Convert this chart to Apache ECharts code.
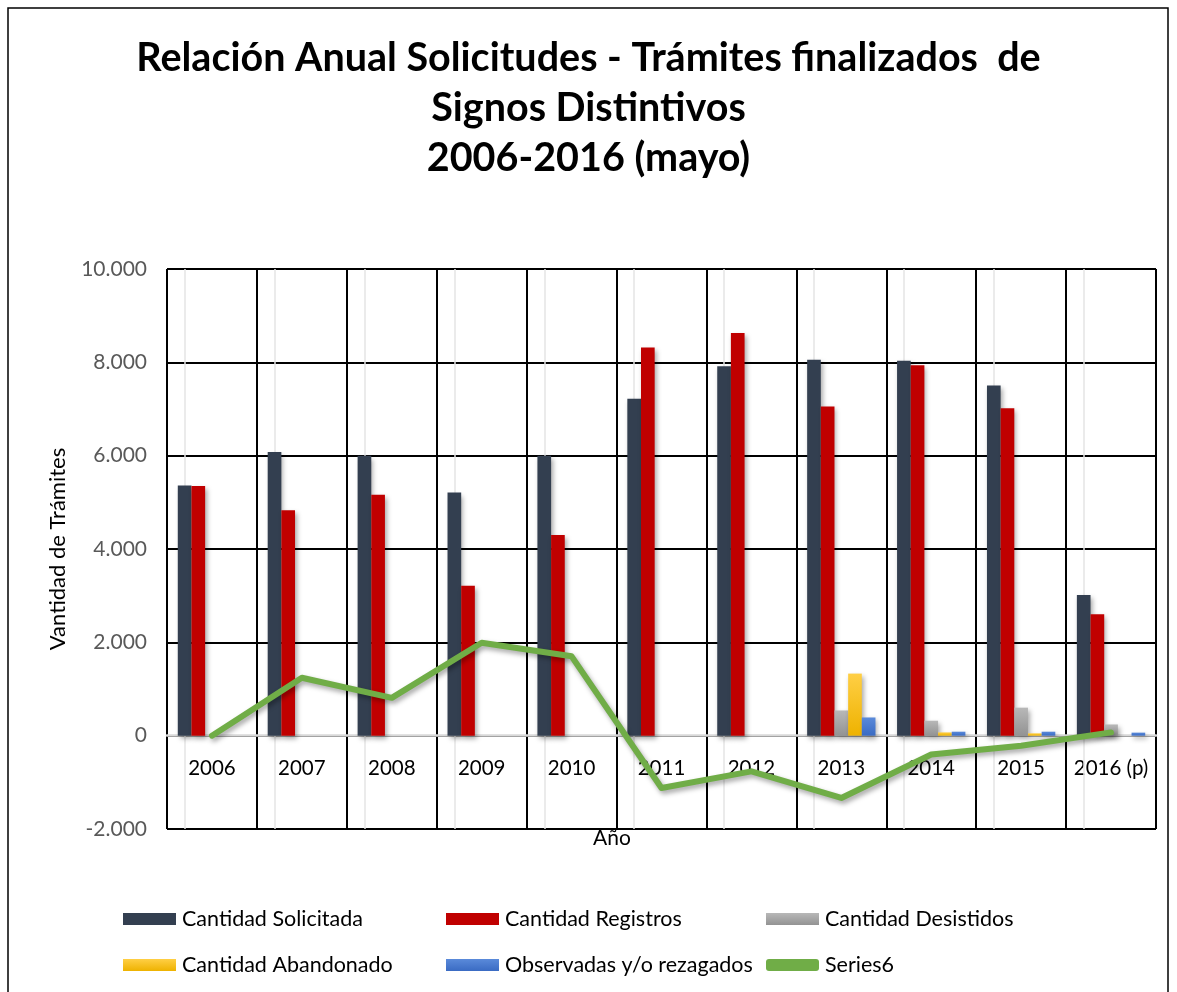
<!DOCTYPE html>
<html>
<head>
<meta charset="utf-8">
<title>Relación Anual Solicitudes</title>
<script src="https://cdn.jsdelivr.net/npm/echarts@6/dist/echarts.min.js"></script>
<style>
  html, body { margin: 0; padding: 0; background: #fff; }
  #chart { width: 1177px; height: 992px; }
</style>
</head>
<body>
<div id="chart"></div>
<script>
// datos
var years = ["2006", "2007", "2008", "2009", "2010", "2011", "2012", "2013", "2014", "2015", "2016 (p)"];
var solicitada = [5360, 6080, 6000, 5210, 6000, 7220, 7915, 8055, 8035, 7505, 3015];
var registros = [5350, 4830, 5160, 3215, 4300, 8320, 8630, 7055, 7935, 7015, 2600];
var desistidos = [0, 0, 0, 0, 0, 0, 0, 540, 320, 600, 240];
var abandonado = [0, 0, 0, 0, 0, 0, 0, 1330, 70, 50, 0];
var observadas = [0, 0, 0, 0, 0, 0, 0, 390, 85, 85, 65];
var series6 = [0, 1240, 810, 1990, 1700, -1120, -765, -1335, -405, -215, 70];
var yTicks = { min: -2000, max: 10000, step: 2000 };

var FONT = "Lato";

function grad(top, bottom) {
  return new echarts.graphic.LinearGradient(0, 0, 0, 1, [
    { offset: 0, color: top },
    { offset: 1, color: bottom }
  ]);
}

var shadow = {
  shadowBlur: 5,
  shadowColor: "rgba(0,0,0,0.35)",
  shadowOffsetX: 2,
  shadowOffsetY: 3
};

function barSeries(name, data, color) {
  return {
    name: name,
    type: "bar",
    data: data,
    barGap: "0%",
    barCategoryGap: "24%",
    itemStyle: Object.assign({ color: color }, shadow)
  };
}

// una columna de la leyenda
function legendCol(items, left) {
  return {
    data: items,
    orient: "vertical",
    left: left,
    top: 908,
    padding: 0,
    itemGap: 24,
    itemWidth: 53,
    itemHeight: 12,
    icon: "rect",
    selectedMode: false,
    textStyle: { fontFamily: FONT, fontSize: 21.5, color: "#000", padding: [0, 0, 0, 1] }
  };
}

var chart = echarts.init(document.getElementById("chart"));

var option = {
  backgroundColor: "#fff",
  animation: false,
  textStyle: { fontFamily: FONT },
  graphic: [
    {
      type: "rect",
      shape: { x: 8, y: 8, width: 1160, height: 1000 },
      style: { fill: null, stroke: "#000", lineWidth: 1.5 },
      silent: true,
      z: -1
    }
  ],
  title: [
    {
      text: "Relación Anual Solicitudes - Trámites finalizados  de\nSignos Distintivos\n2006-2016 (mayo)",
      left: "center",
      top: 33,
      padding: [0, 0, 0, 57],
      textStyle: {
        fontFamily: FONT,
        fontWeight: "bold",
        fontSize: 39.5,
        lineHeight: 50,
        color: "#000"
      }
    },
    {
      text: "Año",
      left: 593,
      top: 828,
      padding: 0,
      textStyle: { fontFamily: FONT, fontWeight: "normal", fontSize: 21, color: "#000" }
    }
  ],
  legend: [
    legendCol(["Cantidad Solicitada", "Cantidad Abandonado"], 123),
    legendCol(["Cantidad Registros", "Observadas y/o rezagados"], 446),
    legendCol([
      "Cantidad Desistidos",
      { name: "Series6", icon: "roundRect" }
    ], 766)
  ],
  grid: {
    left: 167,
    top: 269,
    right: 21,
    bottom: 163,
    containLabel: false
  },
  xAxis: {
    type: "category",
    data: years,
    boundaryGap: true,
    axisLine: { onZero: true, lineStyle: { color: "#d9d9d9", width: 2.5 } },
    axisTick: { show: false },
    axisLabel: { fontFamily: FONT, fontSize: 20.5, color: "#000", margin: -71, interval: 0, hideOverlap: false },
    splitLine: { show: true, interval: 0, lineStyle: { color: "#000", width: 2 } }
  },
  yAxis: {
    type: "value",
    min: yTicks.min,
    max: yTicks.max,
    interval: yTicks.step,
    name: "Vantidad de Trámites",
    nameLocation: "middle",
    nameGap: 98,
    nameTextStyle: { fontFamily: FONT, fontSize: 22, color: "#000" },
    axisLine: { show: false },
    axisTick: { show: false },
    axisLabel: {
      fontFamily: FONT,
      fontSize: 21,
      color: "#595959",
      margin: 20,
      formatter: function (v) {
        var s = String(Math.abs(v)).replace(/\B(?=(\d{3})+(?!\d))/g, ".");
        return (v < 0 ? "-" : "") + s;
      }
    },
    splitLine: { show: true, lineStyle: { color: "#000", width: 2 } }
  },
  series: [
    Object.assign(barSeries("Cantidad Solicitada", solicitada, "#333f50"), {
      markLine: {
        silent: true,
        symbol: "none",
        z: 1,
        label: { show: false },
        lineStyle: { color: "#e4e4e4", width: 1.5, type: "solid" },
        data: years.map(function (y) { return { xAxis: y }; })
      }
    }),
    barSeries("Cantidad Registros", registros, "#c00000"),
    barSeries("Cantidad Desistidos", desistidos, grad("#b8b8b8", "#939393")),
    barSeries("Cantidad Abandonado", abandonado, grad("#ffcf45", "#eeb200")),
    barSeries("Observadas y/o rezagados", observadas, grad("#5a8ada", "#3a6bc3")),
    {
      name: "Series6",
      type: "line",
      data: series6,
      symbol: "none",
      z: 5,
      itemStyle: { color: "#70ad47" },
      lineStyle: Object.assign({ color: "#70ad47", width: 6, cap: "round", join: "round" }, shadow)
    }
  ]
};

chart.setOption(option);
</script>
</body>
</html>
